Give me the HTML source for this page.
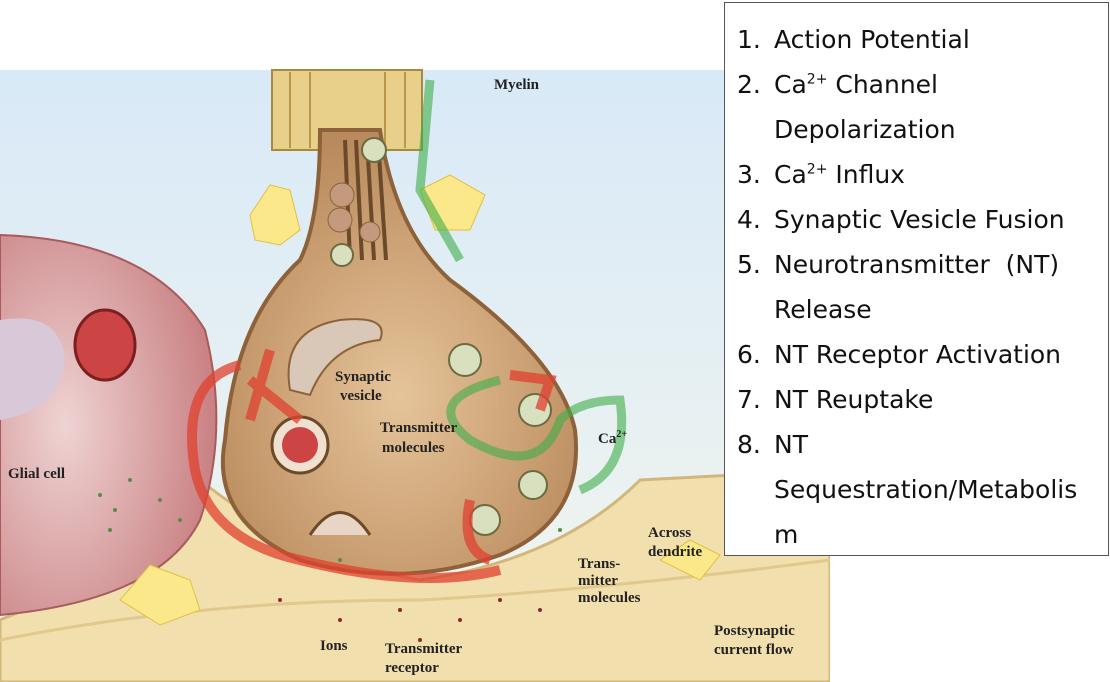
<!DOCTYPE html>
<html><head><meta charset="utf-8"><style>
body{margin:0;width:1110px;height:682px;overflow:hidden;background:#fff;position:relative;font-family:"Liberation Sans","DejaVu Sans",sans-serif}
#leg{position:absolute;left:724px;top:2px;width:383px;height:552px;border:1px solid #555;background:#fff;font-family:"DejaVu Sans",sans-serif;font-size:25px;color:#111}
#leg div{position:absolute;left:12px;white-space:nowrap}
#leg span{position:absolute;left:37px}
sup{font-size:14px}
</style></head><body>
<svg width="830" height="682" style="position:absolute;left:0;top:0" font-family="Liberation Serif,serif" font-weight="bold">
<defs>
<linearGradient id="bg" x1="0" y1="0" x2="0" y2="1"><stop offset="0" stop-color="#d8e9f7"/><stop offset="1" stop-color="#f3f6ee"/></linearGradient>
<radialGradient id="gl" cx="0.3" cy="0.5" r="0.7"><stop offset="0" stop-color="#efd3d3"/><stop offset="1" stop-color="#c98082"/></radialGradient>
<radialGradient id="tb" cx="0.5" cy="0.6" r="0.6"><stop offset="0" stop-color="#e6c49a"/><stop offset="1" stop-color="#b98a5c"/></radialGradient>
</defs>
<rect x="0" y="70" width="830" height="612" fill="url(#bg)"/>
<path d="M0 620 Q150 560 200 480 Q300 560 420 580 Q560 560 640 480 L830 470 L830 682 L0 682Z" fill="#f1dfae" stroke="#d3b77a" stroke-width="3"/>
<path d="M0 640 Q200 600 420 600 Q600 590 830 560" fill="none" stroke="#e1c98d" stroke-width="3"/>
<path d="M0 235 Q150 240 205 330 Q230 430 200 520 Q160 600 0 615Z" fill="url(#gl)" stroke="#a85a5c" stroke-width="2"/>
<path d="M0 320 Q60 310 65 360 Q60 410 0 420Z" fill="#d8c8d8"/>
<ellipse cx="105" cy="345" rx="30" ry="35" fill="#c44" stroke="#7a2020" stroke-width="3"/>
<rect x="272" y="70" width="150" height="80" fill="#e8d08a" stroke="#a78a3d" stroke-width="2"/>
<g stroke="#b8974a" stroke-width="2"><line x1="290" y1="72" x2="290" y2="148"/><line x1="310" y1="72" x2="310" y2="148"/><line x1="385" y1="72" x2="385" y2="148"/><line x1="405" y1="72" x2="405" y2="148"/></g>
<path d="M320 130 L380 130 Q395 230 450 280 Q560 360 575 430 Q585 520 500 555 Q400 590 300 560 Q210 520 225 440 Q235 320 300 260 Q320 220 320 130Z" fill="url(#tb)" stroke="#8d623a" stroke-width="4"/>
<g stroke="#6b4a2a" stroke-width="4"><line x1="345" y1="140" x2="350" y2="260"/><line x1="356" y1="140" x2="362" y2="260"/><line x1="367" y1="140" x2="374" y2="260"/><line x1="378" y1="140" x2="386" y2="260"/></g>
<g fill="#c49a7e" stroke="#8d623a"><circle cx="342" cy="195" r="12"/><circle cx="340" cy="220" r="12"/><circle cx="370" cy="232" r="10"/></g>
<g fill="#d9e0bf" stroke="#6e6a40" stroke-width="2"><circle cx="374" cy="150" r="12"/><circle cx="342" cy="255" r="11"/><circle cx="465" cy="360" r="16"/><circle cx="535" cy="410" r="16"/><circle cx="533" cy="485" r="14"/><circle cx="485" cy="520" r="15"/></g>
<path d="M290 390 Q280 330 340 320 Q390 315 380 340 Q330 345 310 395Z" fill="#d9c8b8" stroke="#8d623a" stroke-width="2"/>
<circle cx="300" cy="445" r="28" fill="#f0e0d0" stroke="#6b4a2a" stroke-width="3"/><circle cx="300" cy="445" r="18" fill="#c44"/>
<path d="M310 535 Q340 490 370 535" fill="#e9d5c5" stroke="#6b4a2a" stroke-width="3"/>
<g fill="#fbe88a" stroke="#e2c040"><polygon points="250,215 270,185 290,190 300,230 280,245 255,240"/><polygon points="420,190 450,175 485,195 470,230 435,230"/><polygon points="120,600 150,565 190,580 200,610 160,625"/><polygon points="660,560 690,540 720,555 700,580"/></g>
<g fill="none" stroke="#e0412f" stroke-width="10" opacity="0.75">
<path d="M240 365 Q180 380 195 470 Q210 540 300 560 Q420 590 500 570"/>
<path d="M250 380 L300 420"/><path d="M270 350 L250 420"/>
<path d="M470 500 Q460 550 490 560"/><path d="M510 375 L550 380 L540 410"/>
</g>
<g fill="none" stroke="#3fae4a" stroke-width="9" opacity="0.6">
<path d="M430 80 L420 190 L460 260"/><path d="M500 380 Q420 400 470 440 Q540 480 560 420 Q580 400 620 400 Q630 470 580 490"/>
</g>
<g fill="#5a8a4a"><circle cx="100" cy="495" r="2"/><circle cx="115" cy="510" r="2"/><circle cx="130" cy="480" r="2"/><circle cx="110" cy="530" r="2"/><circle cx="160" cy="500" r="2"/><circle cx="180" cy="520" r="2"/><circle cx="340" cy="560" r="2"/><circle cx="560" cy="530" r="2"/></g>
<g fill="#8a2a2a"><circle cx="280" cy="600" r="2"/><circle cx="340" cy="620" r="2"/><circle cx="400" cy="610" r="2"/><circle cx="460" cy="620" r="2"/><circle cx="500" cy="600" r="2"/><circle cx="540" cy="610" r="2"/><circle cx="420" cy="640" r="2"/></g>
<g font-size="15" fill="#222">
<text x="494" y="89">Myelin</text>
<text x="335" y="381">Synaptic</text><text x="340" y="400">vesicle</text>
<text x="380" y="432">Transmitter</text><text x="382" y="452">molecules</text>
<text x="598" y="443">Ca<tspan font-size="10" dy="-6">2+</tspan></text>
<text x="8" y="478">Glial cell</text>
<text x="648" y="537">Across</text><text x="648" y="556">dendrite</text>
<text x="578" y="568">Trans-</text><text x="578" y="585">mitter</text><text x="578" y="602">molecules</text>
<text x="714" y="635">Postsynaptic</text><text x="714" y="654">current flow</text>
<text x="320" y="650">Ions</text>
<text x="385" y="653">Transmitter</text><text x="385" y="672">receptor</text>
</g>
</svg>
<div id="leg">
<div style="top:22px">1.<span>Action Potential</span></div>
<div style="top:67px">2.<span>Ca<sup>2+</sup> Channel</span></div>
<div style="top:112px"><span>Depolarization</span></div>
<div style="top:157px">3.<span>Ca<sup>2+</sup> Influx</span></div>
<div style="top:202px">4.<span>Synaptic Vesicle Fusion</span></div>
<div style="top:247px">5.<span>Neurotransmitter&nbsp; (NT)</span></div>
<div style="top:292px"><span>Release</span></div>
<div style="top:337px">6.<span>NT Receptor Activation</span></div>
<div style="top:382px">7.<span>NT Reuptake</span></div>
<div style="top:427px">8.<span>NT</span></div>
<div style="top:472px"><span>Sequestration/Metabolis</span></div>
<div style="top:517px"><span>m</span></div>
</div>
</body></html>
